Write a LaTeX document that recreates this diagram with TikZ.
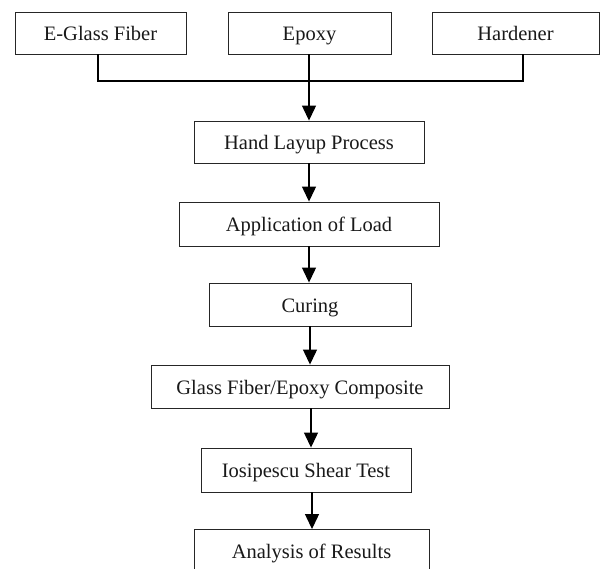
\documentclass[tikz,border=0pt]{standalone}
\usepackage{fontspec}
\setmainfont{Liberation Serif}
\usetikzlibrary{arrows.meta}
\begin{document}
\begin{tikzpicture}[x=1pt,y=-1pt,
  box/.style={draw=black!85, line width=0.9pt, rectangle, inner sep=0pt,
    text height=15.5pt, text depth=0pt,
    font=\fontsize{20.5}{24}\selectfont, text=black!90},
  link/.style={line width=1.2pt, draw=black},
  arr/.style={link, -{Triangle[length=15pt,width=14pt]}}]
\useasboundingbox (0,0) rectangle (602,569);
\clip (0,0) rectangle (602,569);
\fill[white] (0,0) rectangle (602,569);
\node[box, minimum width=171pt, minimum height=42pt] (eg) at (100.5,33) {E-Glass Fiber};
\node[box, minimum width=163pt, minimum height=42pt] (ep) at (309.5,33) {Epoxy};
\node[box, minimum width=167pt, minimum height=42pt] (hd) at (515.5,33) {Hardener};
\node[box, minimum width=230pt, minimum height=42pt] (hl) at (309,142) {Hand Layup Process};
\node[box, minimum width=260pt, minimum height=44pt] (al) at (309,224) {Application of Load};
\node[box, minimum width=202pt, minimum height=43pt] (cu) at (310,304.5) {Curing};
\node[box, minimum width=298pt, minimum height=43pt] (gf) at (300,386.5) {Glass Fiber/Epoxy Composite};
\node[box, minimum width=210pt, minimum height=44pt] (is) at (306,470) {Iosipescu Shear Test};
\node[box, minimum width=235pt, minimum height=43pt] (an) at (311.5,551) {Analysis of Results};
\coordinate (jl) at (98,81);
\coordinate (jr) at (523,81);
\draw[link] (eg.south -| jl) -- (jl) -- (jr) -- (hd.south -| jr);
\draw[arr] (ep.south -| hl.north) -- (hl.north);
\draw[arr] (hl.south) -- (al.north);
\draw[arr] (al.south) -- (al.south |- cu.north);
\draw[arr] (cu.south) -- (cu.south |- gf.north);
\draw[arr] ([xshift=11pt]gf.south) -- ([xshift=11pt]gf.south |- is.north);
\draw[arr] ([xshift=6pt]is.south) -- ([xshift=6pt]is.south |- an.north);
\end{tikzpicture}
\end{document}
